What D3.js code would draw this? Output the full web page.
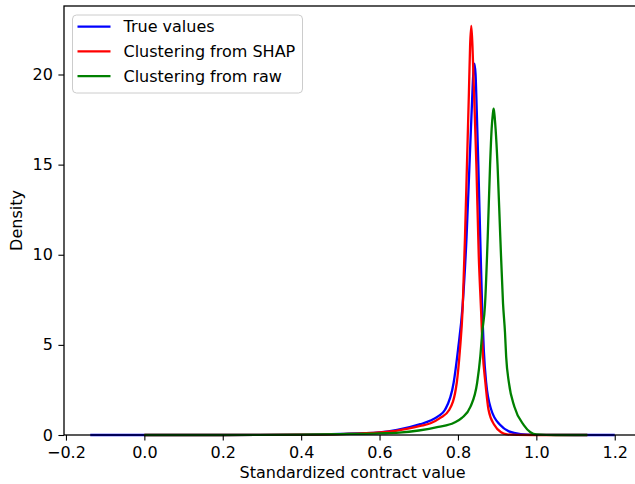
<!DOCTYPE html>
<html>
<head>
<meta charset="utf-8">
<script src="https://cdn.jsdelivr.net/npm/d3@7"></script>
<style>
  body { margin: 0; background: #fff; }
  svg { display: block; font-family: "DejaVu Sans", sans-serif; }
</style>
</head>
<body>
<svg id="chart" width="635" height="484"></svg>
<script>
var seriesNames = ["True values", "Clustering from SHAP", "Clustering from raw"];
var seriesColors = ["#0000ff", "#ff0000", "#008000"];

// (contract value, density)
var trueX = [-0.138, 0.0, 0.2, 0.4, 0.5, 0.6, 0.645, 0.704, 0.73, 0.75, 0.767, 0.789, 0.80, 0.812, 0.822, 0.83, 0.836, 0.839, 0.842, 0.845, 0.848, 0.852, 0.858, 0.862, 0.866, 0.872, 0.885, 0.908, 0.93, 0.96, 1.0, 1.1, 1.2];
var trueD = [0, 0, 0, 0.02, 0.06, 0.15, 0.28, 0.6, 0.8, 1.05, 1.4, 2.9, 4.7, 7.2, 11, 15.3, 18.5, 20.0, 20.6, 20.0, 18, 15, 10, 6.9, 4.7, 2.9, 1.4, 0.55, 0.2, 0.05, 0.01, 0, 0];

var shapX = [0.0, 0.2, 0.4, 0.5, 0.6, 0.645, 0.704, 0.73, 0.755, 0.778, 0.797, 0.805, 0.812, 0.818, 0.823, 0.828, 0.831, 0.834, 0.837, 0.841, 0.847, 0.853, 0.859, 0.863, 0.87, 0.878, 0.893, 0.91, 0.925, 0.95, 1.0, 1.13];
var shapD = [0, 0, 0.02, 0.05, 0.14, 0.24, 0.5, 0.65, 0.95, 1.4, 2.9, 4.7, 7.0, 11, 15, 19, 21.6, 22.7, 21.6, 19, 15, 10, 6.9, 4.7, 2.9, 1.4, 0.55, 0.15, 0.04, 0.01, 0, 0];

var rawX = [0.0, 0.2, 0.4, 0.5, 0.6, 0.65, 0.7, 0.75, 0.79, 0.81, 0.832, 0.849, 0.857, 0.862, 0.869, 0.876, 0.882, 0.886, 0.889, 0.891, 0.893, 0.896, 0.901, 0.908, 0.915, 0.92, 0.923, 0.93, 0.944, 0.968, 0.985, 1.0, 1.05, 1.13];
var rawD = [0, 0, 0.02, 0.05, 0.09, 0.13, 0.25, 0.45, 0.68, 0.95, 1.57, 2.9, 4.35, 5.7, 7.2, 11, 15, 17.0, 17.8, 18.1, 17.8, 17.0, 15, 11, 7.3, 5.7, 4.35, 2.9, 1.57, 0.55, 0.15, 0.03, 0, 0];

var xTicks = [-0.2, 0.0, 0.2, 0.4, 0.6, 0.8, 1.0, 1.2];
var yTicks = [0, 5, 10, 15, 20];

var svg, plot, x, y, margin, fontSize;

margin = { left: 64, top: 6, right: 641, bottom: 435 };
fontSize = 16;

svg = d3.select("#chart");

x = d3.scaleLinear().domain([-0.205, 1.267]).range([margin.left, margin.right]);
y = d3.scaleLinear().domain([0, 23.8]).range([margin.bottom, margin.top]);

var zipSeries = function(xs, ds) {
  return xs.map(function(v, i) {
    return { x: v, d: ds[i] };
  });
};

var series = [zipSeries(trueX, trueD), zipSeries(shapX, shapD), zipSeries(rawX, rawD)];

var drawAxes = function() {
  var xAxis, yAxis, gx, gy;
  xAxis = d3.axisBottom(x).tickValues(xTicks).tickSize(5.6).tickPadding(5.6)
    .tickFormat(function(d) { return d3.format(".1f")(d).replace("-", "\u2212"); });
  yAxis = d3.axisLeft(y).tickValues(yTicks).tickSize(5.6).tickPadding(5.6).tickFormat(d3.format("d"));

  gx = svg.append("g").attr("transform", "translate(0," + margin.bottom + ")").call(xAxis);
  gy = svg.append("g").attr("transform", "translate(" + margin.left + ",0)").call(yAxis);
  [gx, gy].forEach(function(g) {
    g.select(".domain").remove();
    g.selectAll("line").attr("stroke", "#000").attr("stroke-width", 1.1);
    g.selectAll("text").attr("font-size", fontSize).attr("font-family", "DejaVu Sans").attr("fill", "#000");
  });

  // frame (right side falls outside the image)
  svg.append("rect")
    .attr("x", margin.left).attr("y", margin.top)
    .attr("width", margin.right - margin.left).attr("height", margin.bottom - margin.top)
    .attr("fill", "none").attr("stroke", "#000").attr("stroke-width", 1.3);

  svg.append("text")
    .attr("x", (margin.left + margin.right) / 2).attr("y", 478)
    .attr("text-anchor", "middle").attr("font-size", fontSize)
    .text("Standardized contract value");

  svg.append("text")
    .attr("transform", "translate(22," + ((margin.top + margin.bottom) / 2) + ") rotate(-90)")
    .attr("text-anchor", "middle").attr("font-size", fontSize)
    .text("Density");
};

var drawLines = function() {
  var line = d3.line()
    .x(function(d) { return x(d.x); })
    .y(function(d) { return y(d.d); })
    .curve(d3.curveMonotoneX);
  plot = svg.append("g");
  plot.selectAll("path")
    .data(series)
    .enter().append("path")
    .attr("d", line)
    .attr("fill", "none")
    .attr("stroke", function(d, i) { return seriesColors[i]; })
    .attr("stroke-width", 2.3)
    .attr("stroke-linejoin", "round");
};

var drawLegend = function() {
  var lg, rows;
  lg = svg.append("g");
  lg.append("rect")
    .attr("x", 72.5).attr("y", 15).attr("width", 230).attr("height", 78)
    .attr("rx", 4).attr("fill", "#fff").attr("fill-opacity", 0.8)
    .attr("stroke", "#cccccc").attr("stroke-width", 1);
  rows = lg.selectAll("g.row").data(seriesNames).enter().append("g")
    .attr("class", "row")
    .attr("transform", function(d, i) { return "translate(0," + (26.7 + i * 24.7) + ")"; });
  rows.append("line")
    .attr("x1", 77.5).attr("x2", 110.5).attr("y1", 0).attr("y2", 0)
    .attr("stroke", function(d, i) { return seriesColors[i]; })
    .attr("stroke-width", 2.3);
  rows.append("text")
    .attr("x", 123.5).attr("dy", "0.36em")
    .attr("font-size", fontSize)
    .text(function(d) { return d; });
};

drawLines();
drawAxes();
drawLegend();
</script>
</body>
</html>
